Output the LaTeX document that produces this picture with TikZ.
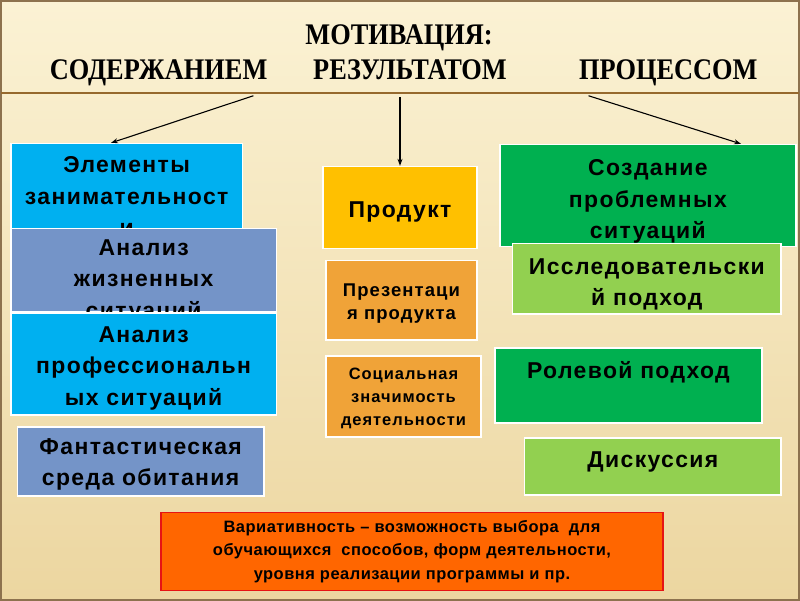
\documentclass[tikz,border=0pt]{standalone}
\usepackage{fontspec}
\setmainfont{Liberation Sans}
\newfontfamily\headfont[FakeStretch=0.88]{Liberation Serif}
\newfontfamily\tilefont[LetterSpace=6]{Liberation Sans}
\newfontfamily\notefont[LetterSpace=3]{Liberation Sans}
\usetikzlibrary{arrows.meta,positioning}
\definecolor{bgTop}{RGB}{251,242,212}
\definecolor{bgBot}{RGB}{236,214,160}
\definecolor{rule}{RGB}{150,105,45}
\definecolor{cyanT}{RGB}{0,176,240}
\definecolor{steelT}{RGB}{116,148,200}
\definecolor{amberT}{RGB}{255,192,0}
\definecolor{orangeT}{RGB}{240,163,56}
\definecolor{greenT}{RGB}{0,176,80}
\definecolor{limeT}{RGB}{146,208,80}
\definecolor{noteFill}{RGB}{255,102,0}
\definecolor{noteEdge}{RGB}{230,20,20}
\begin{document}
\begin{tikzpicture}[x=1pt, y=-1pt,
    tile/.style={draw=white, line width=1.5pt, inner sep=0pt},
    txt/.style={anchor=north, align=center, inner sep=0pt, text=black,
      execute at begin node={\rule{0pt}{16pt}}},
    big/.style={font={\tilefont\bfseries\fontsize{23}{31.5}\selectfont}},
    mid/.style={font={\tilefont\bfseries\fontsize{18.5}{23}\selectfont}},
    small/.style={font={\tilefont\bfseries\fontsize{16.5}{23}\selectfont}},
    head/.style={anchor=base, inner sep=0pt, font={\headfont\bfseries\fontsize{30}{30}\selectfont}},
    link/.style={-{Stealth[length=7pt,width=5pt]}, line width=1.1pt}]
    % Background
    \shade[top color=bgTop, bottom color=bgBot] (0,0) rectangle (800,600);
    \draw[rule!60!gray, line width=2pt] (0,0) rectangle (800,600);
    \draw[rule, line width=1.8pt] (0,92) -- (800,92);
    % Titles
    \node[head] (ttl) at (399,44) {МОТИВАЦИЯ:};
    \node[head] (hCont) at (158,79) {СОДЕРЖАНИЕМ};
    \node[head] (hRes) at (410,79) {РЕЗУЛЬТАТОМ};
    \node[head] (hProc) at (669,79) {ПРОЦЕССОМ};
    % Left column: content
    \node[tile, fill=cyanT, minimum width=232pt, minimum height=85pt] (elem) at (126,185.5) {};
    \node[txt, big] (elemT) at (126,156) {Элементы\\занимательност\\и};
    \node[tile, fill=steelT, minimum width=266pt, minimum height=84pt] (life) at (143,270) {};
    \node[txt, big] (lifeT) at (143,239) {Анализ\\жизненных\\ситуаций};
    \node[tile, fill=cyanT, minimum width=266pt, minimum height=102pt] (prof) at (143,364) {};
    \node[txt, big] (profT) at (143,326) {Анализ\\профессиональн\\ых ситуаций};
    \node[tile, fill=steelT, minimum width=247pt, minimum height=69pt] (fant) at (140,461.5) {};
    \node[txt, big] (fantT) at (140,438) {Фантастическая\\среда обитания};
    % Middle column: result
    \node[tile, fill=amberT, minimum width=154pt, minimum height=82pt] (prod) at (400,207) {};
    \node[txt, big] (prodT) at (400,201) {Продукт};
    \node[tile, fill=orangeT, minimum width=151pt, minimum height=80pt] (pres) at (401.5,300) {};
    \node[txt, mid] (presT) at (401.5,283) {Презентаци\\я продукта};
    \node[tile, fill=orangeT, minimum width=155pt, minimum height=81pt] (soc) at (403.5,396.5) {};
    \node[txt, small] (socT) at (403.5,368) {Социальная\\значимость\\деятельности};
    % Right column: process
    \node[tile, fill=greenT, minimum width=297pt, minimum height=102pt] (prob) at (648.5,195) {};
    \node[txt, big] (probT) at (648.5,159) {Создание\\проблемных\\ситуаций};
    \node[tile, fill=limeT, minimum width=269pt, minimum height=71pt] (res) at (647.5,278.5) {};
    \node[txt, big] (resT) at (647.5,258) {Исследовательски\\й подход};
    \node[tile, fill=greenT, minimum width=268pt, minimum height=75pt] (role) at (629,385.5) {};
    \node[txt, big] (roleT) at (629,361) {Ролевой подход};
    \node[tile, fill=limeT, minimum width=257pt, minimum height=57pt] (disc) at (653.5,466.5) {};
    \node[txt, big] (discT) at (653.5,451) {Дискуссия};
    % Bottom note
    \node[draw=noteEdge, line width=1.5pt, fill=noteFill, minimum width=503pt, minimum height=78pt,
      align=center, font={\notefont\bfseries\fontsize{16.5}{24}\selectfont}] (note) at (412,552)
      {Вариативность – возможность выбора~ для\\обучающихся~ способов, форм деятельности,\\уровня реализации программы и пр.};
    % Arrows from the rule
    \coordinate (fromCont) at (253,95);
    \coordinate (fromRes) at (400,96);
    \coordinate (fromProc) at (589,95);
    \draw[link] (fromCont) -- (elem.110);
    \draw[link] (fromRes) -- (prod.north);
    \draw[link] (fromProc) -- (prob.29);
  \end{tikzpicture}
\end{document}
